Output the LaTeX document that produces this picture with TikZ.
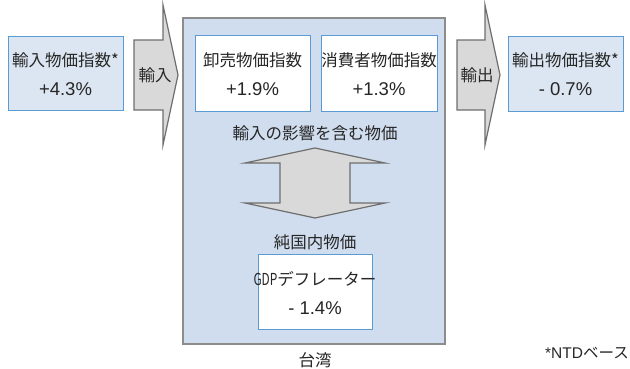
\documentclass[tikz,border=0pt]{standalone}
\usepackage{fontspec}
\setmainfont{Liberation Sans}
\newfontfamily\cjk{Noto Sans CJK JP}
\definecolor{boxblue}{HTML}{DCE6F2}
\definecolor{edgeblue}{HTML}{5B9BD5}
\definecolor{mainfill}{HTML}{D0DDEE}
\definecolor{mainedge}{HTML}{8C8C8C}
\definecolor{arrfill}{HTML}{D9D9D9}
\definecolor{arredge}{HTML}{6E6E6E}
\definecolor{txt}{HTML}{262626}
\tikzset{
  outerbox/.style={draw=edgeblue, fill=boxblue, line width=1pt},
  innerbox/.style={draw=edgeblue, fill=white, line width=1pt},
  bigarrow/.style={draw=arredge, fill=arrfill, line width=1.2pt, line join=miter},
  jp/.style={font=\cjk\fontsize{16.5}{19}\selectfont, text=txt, inner sep=0pt},
  num/.style={font=\fontsize{18.5}{21}\selectfont, text=txt, inner sep=0pt},
}
\begin{document}
\begin{tikzpicture}[x=1pt,y=-1pt]
\useasboundingbox (0,0) rectangle (630,368);
% left box
\path[outerbox] (8,36) rectangle (123,110);
\node[jp] (inT) at (65.5,60) {輸入物価指数*};
\node[num] (inV) at (65.5,89) {+4.3\%};
% import arrow
\path[bigarrow] (134,40) -- (163,40) -- (163,5) -- (178,75) -- (163,145) -- (163,110) -- (134,110) -- cycle;
\node[jp] (inA) at (155,75) {輸入};
% main box
\path[draw=mainedge, fill=mainfill, line width=2.5pt] (183,18) rectangle (445,344);
\path[innerbox] (195,35) rectangle (310,111);
\node[jp] (wT) at (252.5,60) {卸売物価指数};
\node[num] (wV) at (252.5,89) {+1.9\%};
\path[innerbox] (321,35) rectangle (437,111);
\node[jp] (cT) at (379,60) {消費者物価指数};
\node[num] (cV) at (379,89) {+1.3\%};
\node[jp] (infl) at (315,133) {輸入の影響を含む物価};
\path[bigarrow] (315,148) -- (385,163) -- (350,163) -- (350,203) -- (385,203) -- (315,218) -- (245,203) -- (280,203) -- (280,163) -- (245,163) -- cycle;
\node[jp] (dom) at (315,242) {純国内物価};
\path[innerbox] (258,254) rectangle (372,329);
\node[jp] (gT) at (315,279) {\scalebox{0.72}[1]{GDP}デフレーター};
\node[num] (gV) at (315,308) {- 1.4\%};
\node[jp] (tw) at (315,360) {台湾};
% export arrow
\path[bigarrow] (457,40) -- (485,40) -- (485,5) -- (500,75) -- (485,145) -- (485,110) -- (457,110) -- cycle;
\node[jp] (outA) at (477,75) {輸出};
% right box
\path[outerbox] (508,36) rectangle (623,111);
\node[jp] (outT) at (565.5,60) {輸出物価指数*};
\node[num] (outV) at (565.5,89) {- 0.7\%};
% note
\node[font=\fontsize{15.5}{18}\selectfont, text=txt, inner sep=0pt, anchor=east] (note) at (629,353) {*NTD{\cjk ベース}};
\end{tikzpicture}
\end{document}
